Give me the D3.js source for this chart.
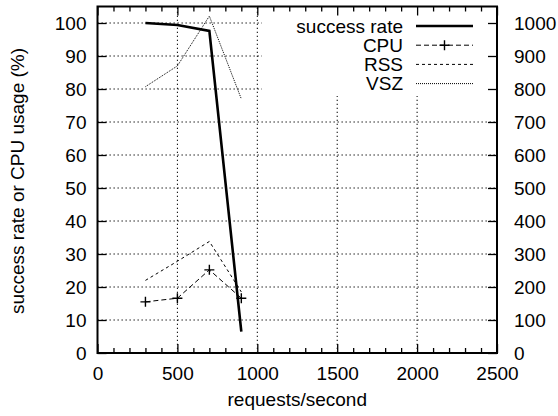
<!DOCTYPE html>
<html lang="en">
<head>
  <meta charset="UTF-8">
  <title>success rate vs requests/second</title>
  <script src="https://d3js.org/d3.v7.min.js"></script>
  <style>
    body { margin: 0; background: #fff; }
    svg { display: block; }
    text { font-family: "Liberation Sans", Arial, sans-serif; font-size: 19px; fill: #000; }
    .grid { stroke: #000; stroke-width: 1; stroke-dasharray: 1.3,2.7; }
    .axis line { stroke: #000; stroke-width: 1.3; }
    .axis path { display: none; }
  </style>
</head>
<body>
  <svg width="558" height="416"></svg>
  <script>
    // data
    const rates = [300, 500, 700, 900];
    const successRate = [100, 99.4, 97.6, 6.5];
    const cpuUsage = [15.5, 16.6, 25.2, 16.6];
    const rss = [220, 278, 338, 185];
    const vsz = [807, 870, 1021, 770];

    const xTicks = [0, 500, 1000, 1500, 2000, 2500];
    const xMinorTicks = [100, 200, 300, 400, 600, 700, 800, 900, 1100, 1200, 1300, 1400,
                         1600, 1700, 1800, 1900, 2100, 2200, 2300, 2400];
    const yTicks = [0, 10, 20, 30, 40, 50, 60, 70, 80, 90, 100];
    const y2Ticks = [0, 100, 200, 300, 400, 500, 600, 700, 800, 900, 1000];

    const mLeft = 97.5, mRight = 497, mTop = 6.5, mBottom = 353;

    const svg = d3.select("svg");

    const x = d3.scaleLinear().domain([0, 2500]).range([mLeft, mRight]);
    const y = d3.scaleLinear().domain([0, 105]).range([mBottom, mTop]);
    const y2 = d3.scaleLinear().domain([0, 1050]).range([mBottom, mTop]);
    const fmt = d3.format("d");

    const series = [
      { name: "success rate", values: successRate, scale: y, width: 2.6, dash: null, mark: false },
      { name: "CPU", values: cpuUsage, scale: y, width: 1, dash: "5,3", mark: true },
      { name: "RSS", values: rss, scale: y2, width: 1, dash: "3,3", mark: false },
      { name: "VSZ", values: vsz, scale: y2, width: 1, dash: "1,1", mark: false }
    ];

    // grid
    const grid = svg.append("g");
    grid.selectAll("line.gx")
      .data(xTicks.filter(d => d > 0 && d < 2500))
      .join("line").attr("class", "grid")
      .attr("x1", d => x(d)).attr("x2", d => x(d))
      .attr("y1", mBottom).attr("y2", mTop);
    grid.selectAll("line.gy")
      .data(yTicks.filter(d => d > 0))
      .join("line").attr("class", "grid")
      .attr("y1", d => y(d)).attr("y2", d => y(d))
      .attr("x1", mLeft).attr("x2", mRight);

    // opaque key box
    svg.append("rect")
      .attr("x", 262).attr("y", mTop)
      .attr("width", mRight - 262).attr("height", 96 - mTop)
      .attr("fill", "#fff");

    // data lines
    const plot = svg.append("g");
    series.forEach(s => {
      const line = d3.line()
        .x((d, i) => x(rates[i]))
        .y(d => s.scale(d));
      plot.append("path")
        .attr("d", line(s.values))
        .attr("fill", "none")
        .attr("stroke", "#000")
        .attr("stroke-width", s.width)
        .attr("stroke-dasharray", s.dash)
        .attr("stroke-linejoin", "miter");
      if (s.mark) {
        plot.selectAll(null)
          .data(s.values)
          .join("path")
          .attr("d", (d, i) => {
            const cx = x(rates[i]), cy = s.scale(d);
            return `M${cx - 5},${cy}H${cx + 5}M${cx},${cy - 5}V${cy + 5}`;
          })
          .attr("stroke", "#000")
          .attr("stroke-width", 1.4);
      }
    });

    // axes (ticks inward)
    svg.append("g").attr("class", "axis")
      .attr("transform", `translate(0,${mBottom})`)
      .call(d3.axisBottom(x).tickValues(xTicks).tickFormat(fmt).tickSize(-9).tickPadding(14));
    svg.append("g").attr("class", "axis")
      .attr("transform", `translate(0,${mBottom})`)
      .call(d3.axisBottom(x).tickValues(xMinorTicks).tickSize(-5).tickFormat(""));
    svg.append("g").attr("class", "axis")
      .attr("transform", `translate(0,${mTop})`)
      .call(d3.axisTop(x).tickValues(xTicks).tickSize(-9).tickFormat(""));
    svg.append("g").attr("class", "axis")
      .attr("transform", `translate(0,${mTop})`)
      .call(d3.axisTop(x).tickValues(xMinorTicks).tickSize(-5).tickFormat(""));
    svg.append("g").attr("class", "axis")
      .attr("transform", `translate(${mLeft},0)`)
      .call(d3.axisLeft(y).tickValues(yTicks).tickFormat(fmt).tickSize(-9).tickPadding(11));
    svg.append("g").attr("class", "axis")
      .attr("transform", `translate(${mRight},0)`)
      .call(d3.axisRight(y2).tickValues(y2Ticks).tickFormat(fmt).tickSize(-9).tickPadding(17));
    svg.selectAll(".axis text").attr("font-size", null).attr("font-family", null);

    // frame
    svg.append("rect")
      .attr("x", mLeft).attr("y", mTop)
      .attr("width", mRight - mLeft).attr("height", mBottom - mTop)
      .attr("fill", "none").attr("stroke", "#000").attr("stroke-width", 2);

    // key
    const key = svg.append("g");
    series.forEach((s, i) => {
      const ky = 26 + i * 19.2;
      key.append("text")
        .attr("x", 403).attr("y", ky)
        .attr("text-anchor", "end")
        .attr("dominant-baseline", "central")
        .text(s.name);
      key.append("line")
        .attr("x1", 416).attr("x2", 473)
        .attr("y1", ky).attr("y2", ky)
        .attr("stroke", "#000")
        .attr("stroke-width", s.width)
        .attr("stroke-dasharray", s.dash);
      if (s.mark) {
        key.append("path")
          .attr("d", `M${439.5},${ky}H${449.5}M${444.5},${ky - 5}V${ky + 5}`)
          .attr("stroke", "#000").attr("stroke-width", 1.4);
      }
    });

    // axis labels
    svg.append("text")
      .attr("x", (mLeft + mRight) / 2).attr("y", 406)
      .attr("text-anchor", "middle")
      .text("requests/second");
    svg.append("text")
      .attr("transform", `translate(17,181) rotate(-90)`)
      .attr("text-anchor", "middle")
      .attr("dominant-baseline", "central")
      .text("success rate or CPU usage (%)");
  </script>
</body>
</html>
